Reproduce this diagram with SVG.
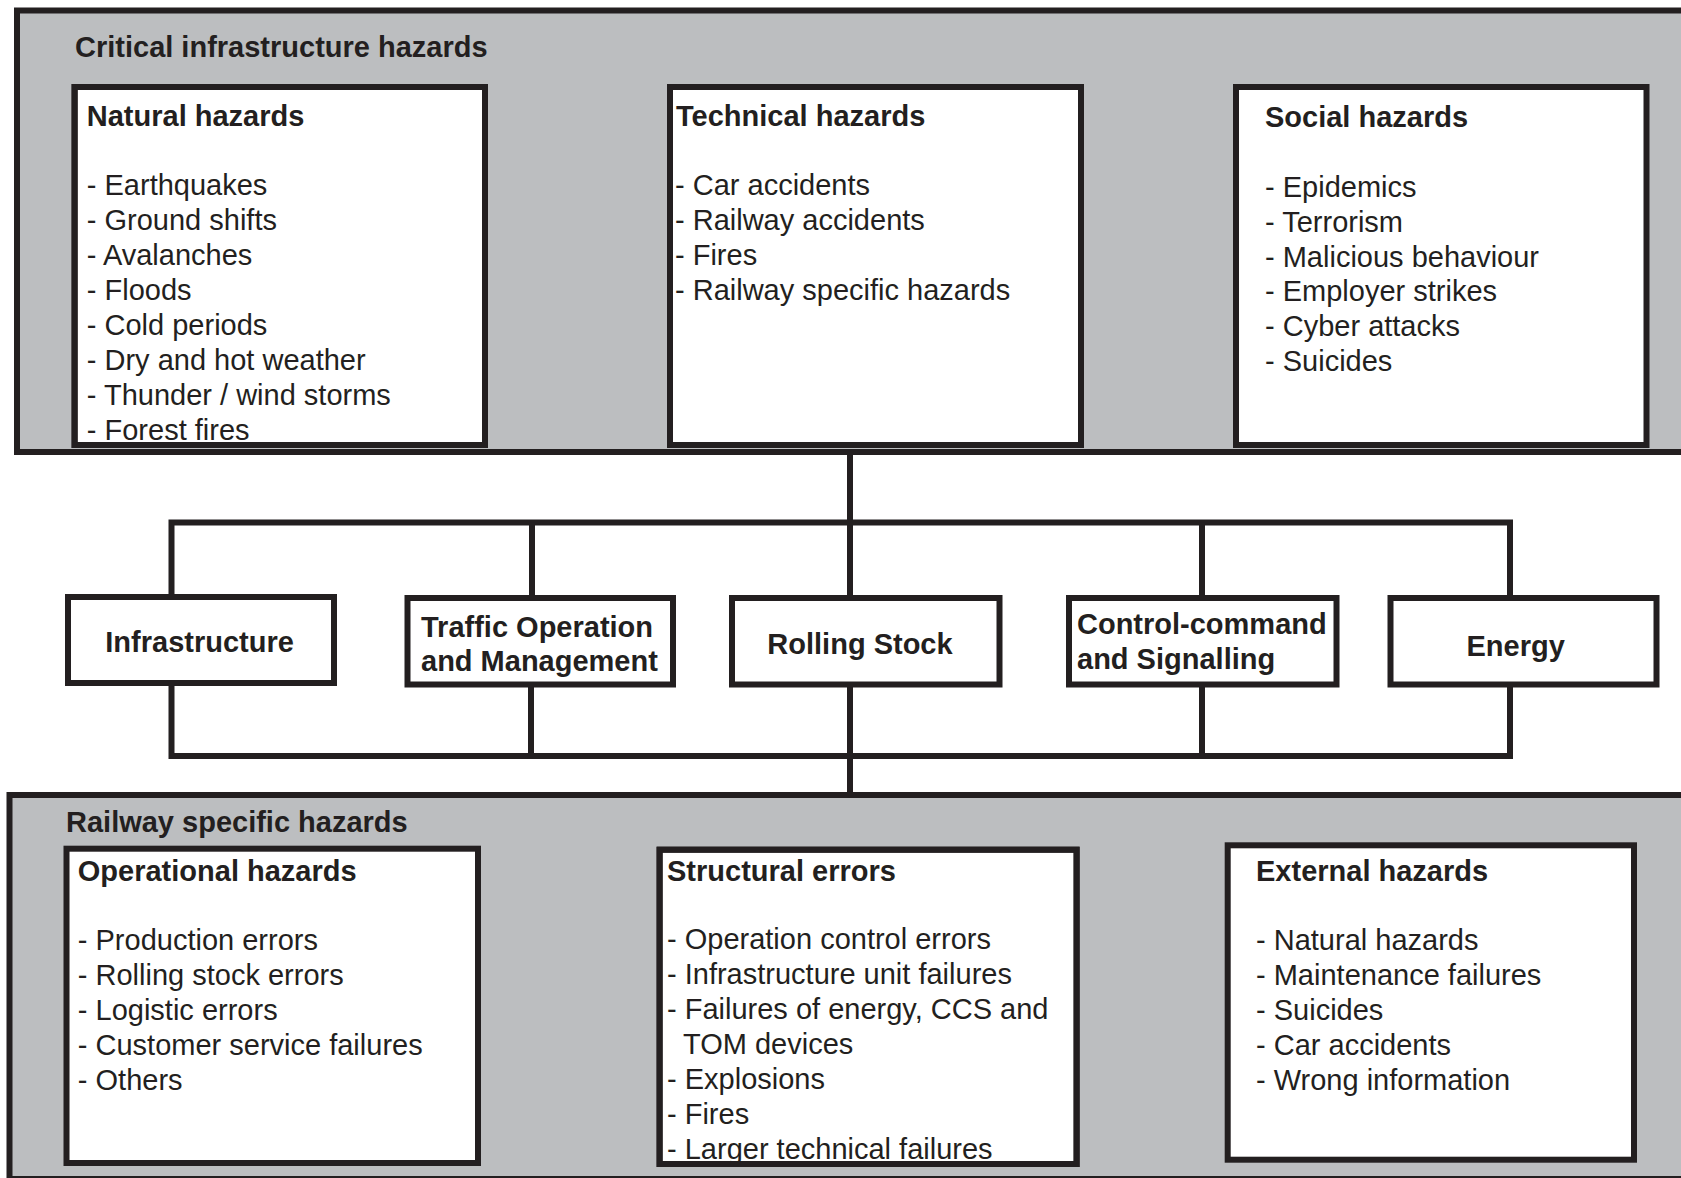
<svg xmlns="http://www.w3.org/2000/svg" width="1681" height="1178" viewBox="0 0 1681 1178">
<style>
.panel{fill:#BCBEC0;stroke:#231F20;stroke-width:6}
.box{fill:#FFFFFF;stroke:#231F20;stroke-width:6}
.frame{fill:none;stroke:#231F20;stroke-width:6}
.conn{fill:none;stroke:#231F20;stroke-width:6}
text{font-family:"Liberation Sans",Arial,Helvetica,sans-serif;font-size:29px;fill:#231F20}
.b{font-weight:bold}
.c{text-anchor:middle}
</style>
<rect width="1681" height="1178" fill="#FFFFFF"/>

<g id="panel-critical">
<rect class="panel" x="17" y="10.5" width="1700" height="441.5"/>
<text class="b" x="75" y="57">Critical infrastructure hazards</text>
</g>

<g id="panel-railway">
<rect class="panel" x="9.5" y="795" width="1710" height="384"/>
<text class="b" x="66" y="832">Railway specific hazards</text>
</g>

<g id="connectors">
<line class="conn" x1="850" y1="452" x2="850" y2="795"/>
<path class="conn" d="M171.5,522.5 H1510 V756 H171.5 Z"/>
<line class="conn" x1="532" y1="522.5" x2="532" y2="598"/>
<line class="conn" x1="531" y1="684" x2="531" y2="756"/>
<line class="conn" x1="1202" y1="522.5" x2="1202" y2="756"/>
</g>

<g id="natural-hazards">
<rect class="box" x="74.6" y="87" width="410.4" height="358"/>
<text class="b" x="86.8" y="126">Natural hazards</text>
<text x="86.8" y="194.5">- Earthquakes</text>
<text x="86.8" y="229.5">- Ground shifts</text>
<text x="86.8" y="264.5">- Avalanches</text>
<text x="86.8" y="299.5">- Floods</text>
<text x="86.8" y="334.5">- Cold periods</text>
<text x="86.8" y="369.5">- Dry and hot weather</text>
<text x="86.8" y="404.5">- Thunder / wind storms</text>
<text x="86.8" y="439.5">- Forest fires</text>
<rect class="frame" x="74.6" y="87" width="410.4" height="358"/>
</g>

<g id="technical-hazards">
<rect class="box" x="670" y="87" width="411" height="358"/>
<text class="b" x="676" y="126">Technical hazards</text>
<text x="675" y="194.5">- Car accidents</text>
<text x="675" y="229.5">- Railway accidents</text>
<text x="675" y="264.5">- Fires</text>
<text x="675" y="299.5">- Railway specific hazards</text>
</g>

<g id="social-hazards">
<rect class="box" x="1236" y="87" width="410.5" height="358"/>
<text class="b" x="1265" y="127">Social hazards</text>
<text x="1265" y="197">- Epidemics</text>
<text x="1265" y="232">- Terrorism</text>
<text x="1265" y="267">- Malicious behaviour</text>
<text x="1265" y="301">- Employer strikes</text>
<text x="1265" y="336">- Cyber attacks</text>
<text x="1265" y="371">- Suicides</text>
</g>

<g id="infrastructure">
<rect class="box" x="68" y="597" width="266" height="86"/>
<text class="b c" x="199.6" y="652.2">Infrastructure</text>
</g>

<g id="traffic-operation">
<rect class="box" x="407.5" y="598" width="265.5" height="86.5"/>
<text class="b" x="421" y="636.5">Traffic Operation</text>
<text class="b" x="421" y="671">and Management</text>
</g>

<g id="rolling-stock">
<rect class="box" x="732" y="598" width="267.5" height="86.5"/>
<text class="b c" x="860" y="653.5">Rolling Stock</text>
</g>

<g id="control-command">
<rect class="box" x="1069" y="598" width="267.5" height="86.5"/>
<text class="b" x="1077" y="634.2">Control-command</text>
<text class="b" x="1077" y="669">and Signalling</text>
</g>

<g id="energy">
<rect class="box" x="1390.5" y="598" width="266" height="86.5"/>
<text class="b c" x="1515.7" y="656">Energy</text>
</g>

<g id="operational-hazards">
<rect class="box" x="66.5" y="848.7" width="411.5" height="314.3"/>
<text class="b" x="77.8" y="881">Operational hazards</text>
<text x="77.8" y="950.3">- Production errors</text>
<text x="77.8" y="985.3">- Rolling stock errors</text>
<text x="77.8" y="1020.3">- Logistic errors</text>
<text x="77.8" y="1055.3">- Customer service failures</text>
<text x="77.8" y="1090.3">- Others</text>
</g>

<g id="structural-errors">
<rect class="box" x="659.6" y="849.7" width="417" height="314.3"/>
<text class="b" x="667" y="881">Structural errors</text>
<text x="667" y="948.7">- Operation control errors</text>
<text x="667" y="984">- Infrastructure unit failures</text>
<text x="667" y="1019">- Failures of energy, CCS and</text>
<text x="683" y="1054">TOM devices</text>
<text x="667" y="1089">- Explosions</text>
<text x="667" y="1124">- Fires</text>
<text x="667" y="1158.7">- Larger technical failures</text>
<rect class="frame" x="659.6" y="849.7" width="417" height="314.3"/>
</g>

<g id="external-hazards">
<rect class="box" x="1227.7" y="845.3" width="406.3" height="314.4"/>
<text class="b" x="1256" y="881">External hazards</text>
<text x="1256" y="950.3">- Natural hazards</text>
<text x="1256" y="985.3">- Maintenance failures</text>
<text x="1256" y="1020.3">- Suicides</text>
<text x="1256" y="1055.3">- Car accidents</text>
<text x="1256" y="1090.3">- Wrong information</text>
</g>
</svg>
